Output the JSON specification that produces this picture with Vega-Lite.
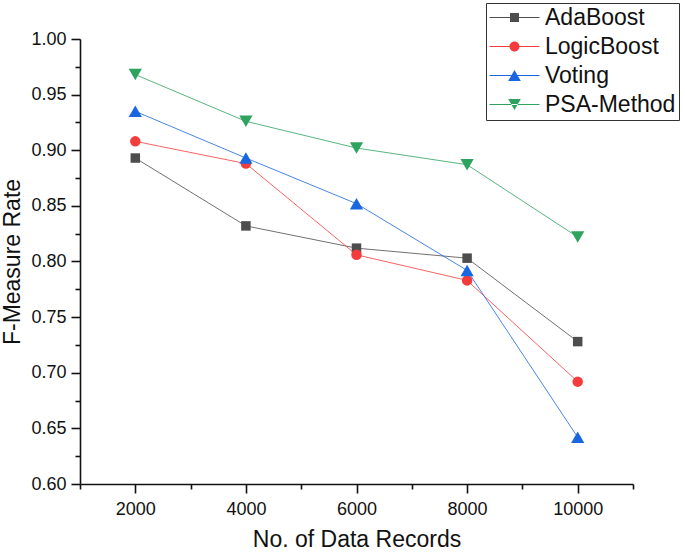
{
  "$schema": "https://vega.github.io/schema/vega-lite/v6.json",
  "autosize": {"type": "none"},
  "padding": {"left": 80, "top": 39, "right": 52, "bottom": 68},
  "width": 553,
  "height": 445,
  "background": "white",
  "config": {
    "view": {"stroke": null},
    "font": "Liberation Sans",
    "axis": {
      "domainColor": "#111",
      "domainWidth": 1.6,
      "tickColor": "#111",
      "tickWidth": 1.6,
      "labelColor": "#111",
      "labelFont": "Liberation Sans",
      "labelFontSize": 18,
      "titleFont": "Liberation Sans",
      "titleFontSize": 23,
      "titleFontWeight": "normal",
      "titleColor": "#111",
      "grid": false,
      "labelOverlap": false,
      "labelFlush": false
    }
  },
  "data": {
    "values": [
      {"records": 2000, "rate": 0.893, "method": "AdaBoost"},
      {"records": 4000, "rate": 0.832, "method": "AdaBoost"},
      {"records": 6000, "rate": 0.812, "method": "AdaBoost"},
      {"records": 8000, "rate": 0.803, "method": "AdaBoost"},
      {"records": 10000, "rate": 0.728, "method": "AdaBoost"},
      {"records": 2000, "rate": 0.908, "method": "LogicBoost"},
      {"records": 4000, "rate": 0.888, "method": "LogicBoost"},
      {"records": 6000, "rate": 0.806, "method": "LogicBoost"},
      {"records": 8000, "rate": 0.783, "method": "LogicBoost"},
      {"records": 10000, "rate": 0.692, "method": "LogicBoost"},
      {"records": 2000, "rate": 0.935, "method": "Voting"},
      {"records": 4000, "rate": 0.893, "method": "Voting"},
      {"records": 6000, "rate": 0.852, "method": "Voting"},
      {"records": 8000, "rate": 0.792, "method": "Voting"},
      {"records": 10000, "rate": 0.642, "method": "Voting"},
      {"records": 2000, "rate": 0.968, "method": "PSA-Method"},
      {"records": 4000, "rate": 0.926, "method": "PSA-Method"},
      {"records": 6000, "rate": 0.902, "method": "PSA-Method"},
      {"records": 8000, "rate": 0.887, "method": "PSA-Method"},
      {"records": 10000, "rate": 0.822, "method": "PSA-Method"}
    ]
  },
  "encoding": {
    "x": {
      "field": "records",
      "type": "quantitative",
      "scale": {"domain": [1000, 11000], "nice": false, "zero": false},
      "axis": {
        "title": "No. of Data Records",
        "values": [1000, 2000, 3000, 4000, 5000, 6000, 7000, 8000, 9000, 10000, 11000],
        "format": "d",
        "labelExpr": "datum.value % 2000 == 0 ? datum.label : ''",
        "tickSize": {"condition": {"test": "datum.value % 2000 == 0", "value": 9}, "value": 5},
        "labelPadding": 7,
        "titlePadding": 10
      }
    },
    "y": {
      "field": "rate",
      "type": "quantitative",
      "scale": {"domain": [0.6, 1.0], "nice": false, "zero": false},
      "axis": {
        "title": "F-Measure Rate",
        "values": [0.6, 0.625, 0.65, 0.675, 0.7, 0.725, 0.75, 0.775, 0.8, 0.825, 0.85, 0.875, 0.9, 0.925, 0.95, 0.975, 1.0],
        "labelExpr": "round(datum.value * 1000) % 50 == 0 ? format(datum.value, '.2f') : ''",
        "tickSize": {"condition": {"test": "round(datum.value * 1000) % 50 == 0", "value": 9}, "value": 5},
        "labelPadding": 5,
        "titlePadding": 6
      }
    },
    "color": {
      "field": "method",
      "type": "nominal",
      "scale": {
        "domain": ["AdaBoost", "LogicBoost", "Voting", "PSA-Method"],
        "range": ["#4d4d4d", "#f53c3c", "#1a66e0", "#2ea25f"]
      },
      "legend": {
        "title": null,
        "orient": "none",
        "legendX": 406,
        "legendY": -36,
        "padding": 3,
        "strokeColor": "#333",
        "labelFontSize": 23,
        "labelFont": "Liberation Sans",
        "labelColor": "#111",
        "symbolSize": 100,
        "symbolStrokeWidth": 0,
        "symbolOpacity": 1,
        "symbolOffset": 14,
        "labelOffset": 19,
        "rowPadding": 5
      }
    }
  },
  "layer": [
    {
      "mark": {"type": "line", "strokeWidth": 1, "opacity": 0.8}
    },
    {
      "transform": [{"filter": "datum.method === 'AdaBoost'"}],
      "mark": {"type": "point", "filled": true, "opacity": 1, "shape": "square", "size": 90}
    },
    {
      "transform": [{"filter": "datum.method === 'LogicBoost'"}],
      "mark": {"type": "point", "filled": true, "opacity": 1, "shape": "circle", "size": 110}
    },
    {
      "transform": [{"filter": "datum.method === 'Voting'"}],
      "mark": {"type": "point", "filled": true, "opacity": 1, "shape": "triangle-up", "size": 175}
    },
    {
      "transform": [{"filter": "datum.method === 'PSA-Method'"}],
      "mark": {"type": "point", "filled": true, "opacity": 1, "shape": "triangle-down", "size": 175}
    },
    {
      "mark": {"type": "point", "filled": true, "opacity": 1, "size": 0},
      "encoding": {
        "shape": {
          "field": "method",
          "type": "nominal",
          "scale": {
            "domain": ["AdaBoost", "LogicBoost", "Voting", "PSA-Method"],
            "range": [
              "M-5,-0.1H5V0.1H-5ZM-0.9,-0.9H0.9V0.9H-0.9Z",
              "M-5,-0.1H5V0.1H-5ZM-1,0A1,1,0,1,1,1,0A1,1,0,1,1,-1,0Z",
              "M-5,-0.1H5V0.1H-5ZM0,-1.1L1.26,1.1L-1.26,1.1Z",
              "M-5,-0.1H5V0.1H-5ZM0,1.1L1.26,-1.1L-1.26,-1.1Z"
            ]
          }
        }
      }
    }
  ]
}
